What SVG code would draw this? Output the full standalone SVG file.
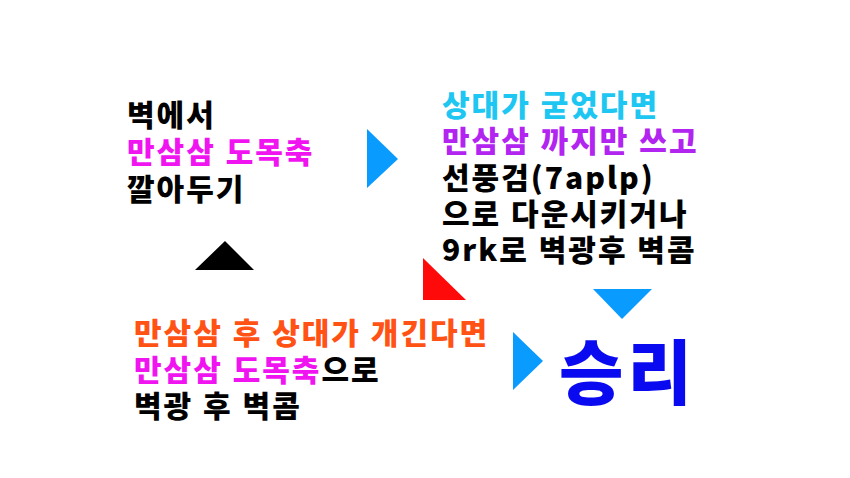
<svg xmlns="http://www.w3.org/2000/svg" width="850" height="478" viewBox="0 0 850 478">
<style>
text{font-family:"Noto Sans CJK KR","Noto Sans",sans-serif;font-weight:900;font-size:30px;fill:#000;letter-spacing:2px;word-spacing:1px}
.mag{fill:#f014f0}
.pur{fill:#b224f0}
.cyan{fill:#1ec6f2}
.org{fill:#ff5214}
.win{fill:#0a0af0;font-size:70px;letter-spacing:4px}
.blue{fill:#0a9bff}
</style>
<rect width="850" height="478" fill="#fff"/>
<g id="connectors">
<polygon class="blue" points="367,129 367,188 398,159"/>
<polygon class="blue" points="593,289 652,289 622,319"/>
<polygon class="blue" points="513,332 513,390 543,361"/>
<polygon fill="#000" points="195,270 225,241 254,270"/>
<polygon fill="#ff0a0a" points="423,258 423,300 466,300"/>
</g>
<g id="node-wall">
<text x="127" y="126">벽에서</text>
<text x="127" y="163" class="mag">만삼삼 도목축</text>
<text x="127" y="200">깔아두기</text>
</g>
<g id="node-guard">
<text x="442" y="116" class="cyan">상대가 굳었다면</text>
<text x="442" y="152" class="pur">만삼삼 까지만 쓰고</text>
<text x="442" y="189">선풍검(7aplp)</text>
<text x="442" y="225">으로 다운시키거나</text>
<text x="442" y="261">9rk로 벽광후 벽콤</text>
</g>
<g id="node-resist">
<text x="134" y="344" class="org">만삼삼 후 상대가 개긴다면</text>
<text x="134" y="381"><tspan class="mag">만삼삼 도목축</tspan>으로</text>
<text x="134" y="417">벽광 후 벽콤</text>
</g>
<g id="node-win">
<text x="559" y="399" class="win">승리</text>
</g>
</svg>
